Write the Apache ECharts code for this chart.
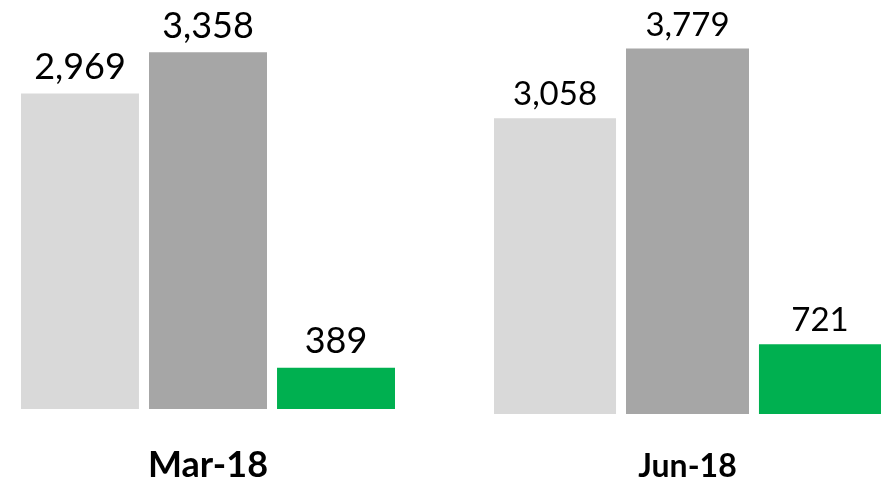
<!DOCTYPE html>
<html>
<head>
<meta charset="utf-8">
<script src="https://cdn.jsdelivr.net/npm/echarts@6/dist/echarts.min.js"></script>
<style>
  html, body { margin: 0; padding: 0; background: #fff; }
  #chart { width: 886px; height: 483px; }
</style>
</head>
<body>
<div id="chart"></div>
<script>
// two periods, each drawn in its own panel (own scale, like the source)
const periods = ['Mar-18', 'Jun-18'];
const lightValues = [2969, 3058];
const darkValues = [3358, 3779];
const greenValues = [389, 721];
const colors = ['#D9D9D9', '#A6A6A6', '#00B050'];

const panels = [
  { left: 21, width: 374, bottom: 73, max: 3850, bar: 118, gap: '8.5%', font: 36, catFont: 36, margin: 38, dist: 8 },
  { left: 494, width: 387, bottom: 63.5, max: 4280, bar: 123, gap: '8.1%', font: 33, catFont: 32, margin: 37, dist: 7 }
];

const chart = echarts.init(document.getElementById('chart'));

const grid = [], xAxis = [], yAxis = [], series = [];
panels.forEach(function (p, i) {
  grid.push({ left: p.left, width: p.width, top: 0, bottom: p.bottom });
  xAxis.push({
    type: 'category', gridIndex: i, data: [periods[i]],
    axisLine: { show: false }, axisTick: { show: false },
    axisLabel: { margin: p.margin, color: '#000', fontSize: p.catFont, fontWeight: 'bold', fontFamily: 'Lato' }
  });
  yAxis.push({ type: 'value', gridIndex: i, min: 0, max: p.max, show: false, splitLine: { show: false } });
  [lightValues, darkValues, greenValues].forEach(function (vals, k) {
    series.push({
      type: 'bar', xAxisIndex: i, yAxisIndex: i,
      data: [vals[i]], barWidth: p.bar, barGap: p.gap,
      itemStyle: { color: colors[k] },
      label: {
        show: true, position: 'top', distance: p.dist,
        color: '#000', fontSize: p.font, fontFamily: 'Lato',
        formatter: function (d) { return d.value.toLocaleString('en-US'); }
      }
    });
  });
});

chart.setOption({ animation: false, grid: grid, xAxis: xAxis, yAxis: yAxis, series: series });
</script>
</body>
</html>
